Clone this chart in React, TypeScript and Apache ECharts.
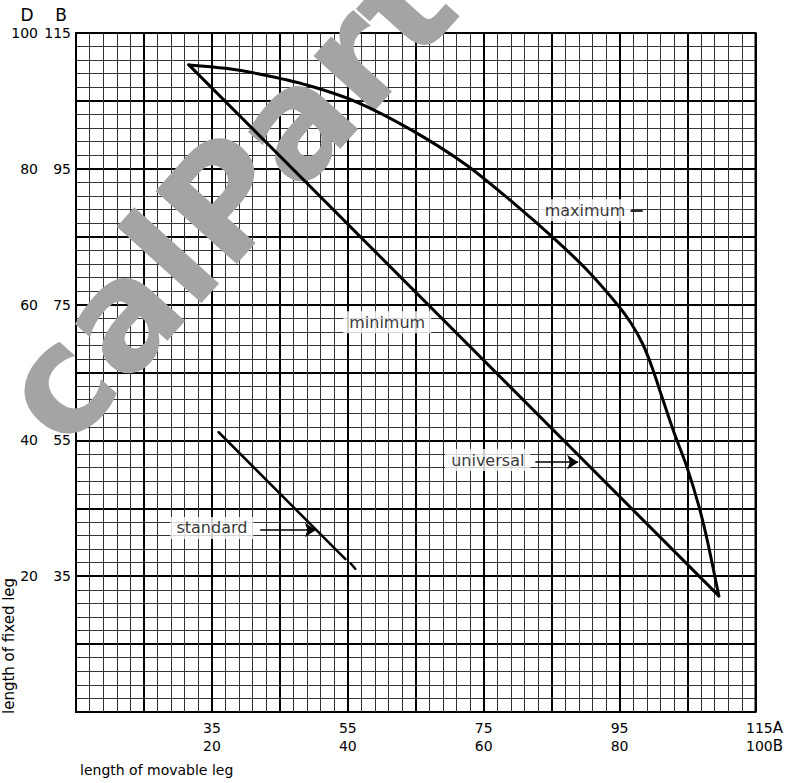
import React, { useEffect, useRef } from 'react';
import * as echarts from 'echarts';

// Chart units: x = length of movable leg on scale B (A - 15), y = length of fixed leg on scale D (B - 15)
const xTickLabelsA = [35, 55, 75, 95, 115];
const xTickLabelsB = [20, 40, 60, 80, 100];
const yTickLabelsD = [20, 40, 60, 80, 100];
const yTickLabelsB = [35, 55, 75, 95, 115];

const maximumX = [16.6, 22.0, 26.8, 34.1, 41.4, 49.4, 57.4, 64.7, 70.3, 75.2, 79.6, 81.6, 83.4, 84.8, 86.4, 88.0, 89.9, 91.7, 92.9, 94.6];
const maximumY = [95.3, 94.8, 94.0, 92.3, 89.8, 85.7, 80.6, 74.7, 69.8, 65.1, 60.1, 57.4, 54.2, 50.7, 45.9, 41.2, 36.1, 30.2, 25.3, 17.1];

const minimumX = [16.6, 94.6];
const minimumY = [95.3, 17.1];

const standardX = [21.0, 39.65];
const standardY = [41.2, 22.5];
const standardTickX = [40.4, 41.1];
const standardTickY = [21.9, 21.1];

const labelNames = ['maximum', 'minimum', 'universal', 'standard'];
const labelX = [74.9, 45.8, 60.6, 20.0];
const labelY = [73.9, 57.4, 37.1, 27.1];

// pointers from label to curve
const pointerNames = ['maximum', 'universal', 'standard'];
const pointerX1 = [81.6, 67.6, 27.1];
const pointerX2 = [83.4, 73.9, 35.3];
const pointerY = [73.8, 36.8, 26.8];
const pointerArrow = [false, true, true];

const FONT = '"DejaVu Sans", sans-serif';

function zip(xs: number[], ys: number[]) {
  return xs.map((x, i) => [x, ys[i]]);
}

export default function App() {
  const ref = useRef<HTMLDivElement>(null);

  useEffect(() => {
    if (!ref.current) return;
    const chart = echarts.init(ref.current, null, { renderer: 'svg' });

    const lineSeries = (name: string, data: number[][], width: number, smooth: number) => ({
      name,
      type: 'line',
      data,
      smooth,
      showSymbol: false,
      symbol: 'none',
      lineStyle: { color: '#000', width, cap: 'round', join: 'round' },
      z: 5,
      silent: true,
    });

    const gridLines = {
      axisLine: { show: false },
      axisTick: { show: false },
      splitLine: { show: true, lineStyle: { color: '#000', width: 2 } },
      minorTick: { show: true, splitNumber: 5, length: 0 },
      minorSplitLine: { show: true, lineStyle: { color: '#333', width: 1 } },
    };

    const option: any = {
      animation: false,
      backgroundColor: '#fff',
      textStyle: { fontFamily: FONT },
      grid: {
        left: 76,
        top: 33,
        right: 24,
        bottom: 71,
        show: true,
        borderColor: '#000',
        borderWidth: 2,
        backgroundColor: 'transparent',
      },
      xAxis: {
        type: 'value',
        min: 0,
        max: 100,
        interval: 10,
        ...gridLines,
        axisLabel: {
          show: true,
          margin: 7,
          fontFamily: FONT,
          color: '#000',
          formatter: (v: number) => {
            const i = xTickLabelsB.indexOf(v);
            if (i < 0) return '';
            if (i === xTickLabelsB.length - 1) {
              return `{s| }{n|${xTickLabelsA[i]}}{L|A}\n{s| }{n|${xTickLabelsB[i]}}{L|B}`;
            }
            return `{n|${xTickLabelsA[i]}}\n{n|${xTickLabelsB[i]}}`;
          },
          rich: {
            n: { fontSize: 14, fontFamily: FONT, color: '#000', lineHeight: 18 },
            L: { fontSize: 15, fontFamily: FONT, color: '#000', lineHeight: 18 },
            s: { width: 18, fontSize: 14, lineHeight: 18 },
          },
        },
      },
      yAxis: {
        type: 'value',
        min: 0,
        max: 100,
        interval: 10,
        ...gridLines,
        axisLabel: {
          show: true,
          margin: 5,
          formatter: (v: number) => {
            const i = yTickLabelsD.indexOf(v);
            if (i < 0) return '';
            return `{d|${yTickLabelsD[i]}}{b|${yTickLabelsB[i]}}`;
          },
          rich: {
            d: { width: 33, align: 'right', fontSize: 14, fontFamily: FONT, color: '#000' },
            b: { width: 33, align: 'right', fontSize: 14, fontFamily: FONT, color: '#000' },
          },
        },
      },
      graphic: [
        {
          type: 'text',
          x: 226,
          y: 198,
          rotation: (48 * Math.PI) / 180,
          z: 1,
          silent: true,
          style: {
            text: 'calPart',
            fill: '#a4a4a4',
            font: 'bold 150px "DejaVu Sans", sans-serif',
            align: 'center',
            verticalAlign: 'middle',
          },
        },
        {
          type: 'text',
          x: 27,
          y: 15,
          style: { text: 'D', fill: '#000', font: '17px "DejaVu Sans", sans-serif', align: 'center', verticalAlign: 'middle' },
        },
        {
          type: 'text',
          x: 61,
          y: 15,
          style: { text: 'B', fill: '#000', font: '17px "DejaVu Sans", sans-serif', align: 'center', verticalAlign: 'middle' },
        },
        {
          type: 'text',
          x: 9,
          y: 714,
          rotation: Math.PI / 2,
          style: { text: 'length of fixed leg', fill: '#000', font: '15px "DejaVu Sans", sans-serif', align: 'left', verticalAlign: 'middle' },
        },
        {
          type: 'text',
          x: 80,
          y: 770,
          style: { text: 'length of movable leg', fill: '#000', font: '14px "DejaVu Sans", sans-serif', align: 'left', verticalAlign: 'middle' },
        },
      ],
      series: [
        lineSeries('maximum', zip(maximumX, maximumY), 3, 0.3),
        lineSeries('minimum', zip(minimumX, minimumY), 3, 0),
        lineSeries('standard', zip(standardX, standardY), 2.5, 0),
        lineSeries('standard-end', zip(standardTickX, standardTickY), 2.5, 0),
        {
          name: 'labels',
          type: 'scatter',
          data: labelNames.map((n, i) => ({ name: n, value: [labelX[i], labelY[i]] })),
          symbolSize: 1,
          itemStyle: { color: 'rgba(0,0,0,0)' },
          z: 4,
          silent: true,
          labelLayout: { hideOverlap: false },
          label: {
            show: true,
            position: 'inside',
            formatter: '{b}',
            color: '#000',
            fontSize: 16,
            fontFamily: FONT,
            backgroundColor: '#fff',
            padding: [3, 6, 3, 6],
          },
          markLine: {
            silent: true,
            symbolSize: 11,
            label: { show: false },
            lineStyle: { color: '#000', width: 1.6, type: 'solid' },
            data: pointerNames.map((n, i) => [
              { name: n, coord: [pointerX1[i], pointerY[i]], symbol: 'none' },
              { coord: [pointerX2[i], pointerY[i]], symbol: pointerArrow[i] ? 'arrow' : 'none' },
            ]),
          },
        },
      ],
    };

    chart.setOption(option);
    return () => chart.dispose();
  }, []);

  return (
    <div
      ref={ref}
      style={{ position: 'absolute', left: 0, top: 0, width: 786, height: 783, background: '#fff' }}
    />
  );
}
